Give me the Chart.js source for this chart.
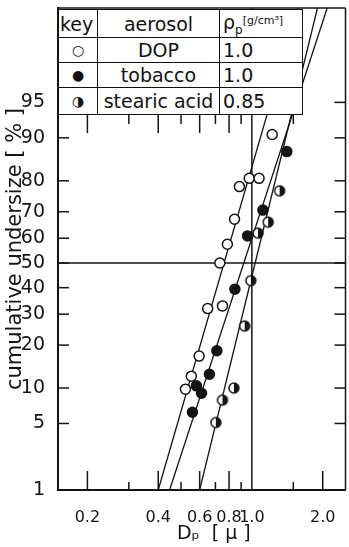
<!DOCTYPE html>
<html>
<head>
<meta charset="utf-8">
<script src="https://cdn.jsdelivr.net/npm/chart.js@4.4.1/dist/chart.umd.min.js"></script>
<style>
  html, body { margin: 0; padding: 0; background: #fff; overflow: hidden; }
  #wrap { position: relative; width: 352px; height: 547px; }
  #key {
    position: absolute; left: 58px; top: 9px; width: 244px;
    table-layout: fixed; border-collapse: collapse; background: #fff;
    font-family: 'DejaVu Sans', sans-serif; font-size: 19px; color: #111;
  }
  #key td { border: 1.5px solid #111; padding: 0 3px; white-space: nowrap; overflow: hidden; }
  #key .c { text-align: center; }
  #key .sym { text-align: center; font-size: 14px; }
  #key .unit { font-size: 11px; vertical-align: 5px; }
</style>
</head>
<body>
<div id="wrap">
  <canvas id="chart" width="352" height="547"></canvas>
  <table id="key">
    <colgroup><col style="width:39px"><col style="width:122px"><col style="width:83px"></colgroup>
    <tr style="height:28px"><td style="padding:0 1px">key</td><td class="c">aerosol</td><td>ρ<sub style="font-size:12px">p</sub><span class="unit">[g/cm³]</span></td></tr>
    <tr style="height:25px"><td class="sym">○</td><td class="c">DOP</td><td>1.0</td></tr>
    <tr style="height:25px"><td class="sym">●</td><td class="c">tobacco</td><td>1.0</td></tr>
    <tr style="height:27px"><td class="sym">◑</td><td class="c" style="padding:0 1px">stearic acid</td><td>0.85</td></tr>
  </table>
</div>
<script>
// particle diameter Dp [µ] and cumulative undersize [%]
const dopSize = [0.522, 0.553, 0.597, 0.649, 0.75, 0.731, 0.787, 0.844, 0.885, 0.975, 1.073, 1.22];
const dopUndersize = [9.8, 12.3, 17, 32, 33, 50, 57.6, 67.3, 78.3, 80.7, 80.7, 90.6];

const tobaccoSize = [0.559, 0.581, 0.611, 0.66, 0.71, 0.847, 0.959, 1.114, 1.408];
const tobaccoUndersize = [6.3, 10.4, 9.1, 12.7, 18.4, 39.4, 60.9, 70.6, 87.3];

const stearicSize = [0.703, 0.75, 0.839, 0.932, 0.99, 1.062, 1.173, 1.312];
const stearicUndersize = [5.1, 8, 10, 25.9, 42.8, 62, 66.2, 77];

// fitted straight lines, end points at 1 % and at the top of the grid
const fitUndersize = [1, 99.55];
const dopFitSize = [0.40, 1.57];
const tobaccoFitSize = [0.447, 2.09];
const stearicFitSize = [0.60, 1.90];

// axes
const sizeRange = [0.15, 2.5];
const undersizeRange = [1, 99.55];
const xTickLabels = [0.2, 0.4, 0.6, 0.8, 1.0, 2.0];
const xLongMarks = [0.2, 0.4, 0.6, 0.8, 2.0];
const xShortMarks = [0.3, 0.5, 0.7, 0.9, 1.5];
const yTickLabels = [1, 5, 10, 20, 30, 40, 50, 60, 70, 80, 90, 95];

const INK = '#141414';

// inverse normal cdf (Acklam), p in percent -> probability-paper coordinate
function probit(p) {
  const q = p / 100;
  const a = [-3.969683028665376e+01, 2.209460984245205e+02, -2.759285104469687e+02, 1.383577518672690e+02, -3.066479806614716e+01, 2.506628277459239e+00];
  const b = [-5.447609879822406e+01, 1.615858368580409e+02, -1.556989798598866e+02, 6.680131188771972e+01, -1.328068155288572e+01];
  const c = [-7.784894002430293e-03, -3.223964580411365e-01, -2.400758277161838e+00, -2.549732539343734e+00, 4.374664141464968e+00, 2.938163982698783e+00];
  const d = [7.784695709041462e-03, 3.224671290700398e-01, 2.445134137142996e+00, 3.754408661907416e+00];
  const lo = 0.02425;
  if (q < lo) {
    const r = Math.sqrt(-2 * Math.log(q));
    return (((((c[0]*r+c[1])*r+c[2])*r+c[3])*r+c[4])*r+c[5]) / ((((d[0]*r+d[1])*r+d[2])*r+d[3])*r+1);
  }
  if (q > 1 - lo) {
    const r = Math.sqrt(-2 * Math.log(1 - q));
    return -(((((c[0]*r+c[1])*r+c[2])*r+c[3])*r+c[4])*r+c[5]) / ((((d[0]*r+d[1])*r+d[2])*r+d[3])*r+1);
  }
  const r = q - 0.5, s = r * r;
  return (((((a[0]*s+a[1])*s+a[2])*s+a[3])*s+a[4])*s+a[5])*r / (((((b[0]*s+b[1])*s+b[2])*s+b[3])*s+b[4])*s+1);
}

function toPoints(sizes, pcts) {
  return sizes.map((v, i) => ({ x: v, y: probit(pcts[i]) }));
}

// half filled marker for stearic acid
function halfDot(r) {
  const cv = document.createElement('canvas');
  const s = 2 * r + 4;
  cv.width = cv.height = s;
  const g = cv.getContext('2d');
  const m = s / 2;
  g.fillStyle = '#fff';
  g.beginPath(); g.arc(m, m, r, 0, 2 * Math.PI); g.fill();
  g.fillStyle = INK;
  g.beginPath(); g.arc(m, m, r, -Math.PI / 2, Math.PI / 2); g.fill();
  g.lineWidth = 1.5; g.strokeStyle = INK;
  g.beginPath(); g.arc(m, m, r, 0, 2 * Math.PI); g.stroke();
  return cv;
}

// frame, inner tick marks, 50 % and 1.0 reference lines
const paperPlugin = {
  id: 'paper',
  beforeDatasetsDraw(chart) {
    const { ctx, chartArea: a, scales: { x, y } } = chart;
    const line = (x1, y1, x2, y2) => { ctx.beginPath(); ctx.moveTo(x1, y1); ctx.lineTo(x2, y2); ctx.stroke(); };
    const keyBox = document.getElementById('key');
    const keyBottom = keyBox.offsetTop + keyBox.offsetHeight;
    const keyRight = keyBox.offsetLeft + keyBox.offsetWidth;
    ctx.save();
    ctx.strokeStyle = INK;
    ctx.lineWidth = 1.5;
    line(a.left, a.top, a.right, a.top);
    line(a.right, a.top, a.right, a.bottom);
    const y50 = y.getPixelForValue(probit(50));
    line(a.left, y50, a.right, y50);
    const x1 = x.getPixelForValue(1.0);
    line(x1, a.top, x1, a.bottom);
    yTickLabels.forEach(p => {
      const py = y.getPixelForValue(probit(p));
      line(a.left, py, a.left + 11, py);
      line(a.right - 11, py, a.right, py);
    });
    xLongMarks.forEach(v => {
      const px = x.getPixelForValue(v);
      line(px, a.bottom, px, a.bottom - 19);
      if (px < keyRight) line(px, keyBottom, px, keyBottom + 18);
    });
    xShortMarks.forEach(v => {
      const px = x.getPixelForValue(v);
      line(px, a.bottom, px, a.bottom - 8);
      if (px < keyRight) line(px, keyBottom, px, keyBottom + 9);
    });
    ctx.restore();
  }
};

Chart.defaults.font.family = "'DejaVu Sans', sans-serif";
Chart.defaults.color = INK;

const pointBase = { showLine: false, pointRadius: 5, pointHoverRadius: 5, pointBorderWidth: 1.5, pointBorderColor: INK, order: 1 };
const fitBase = { showLine: true, pointRadius: 0, borderColor: INK, borderWidth: 1.3, fill: false, order: 2 };

new Chart(document.getElementById('chart'), {
  type: 'scatter',
  data: {
    datasets: [
      { ...pointBase, label: 'DOP', data: toPoints(dopSize, dopUndersize), pointBackgroundColor: '#fff' },
      { ...pointBase, label: 'tobacco', data: toPoints(tobaccoSize, tobaccoUndersize), pointBackgroundColor: INK },
      { ...pointBase, label: 'stearic acid', data: toPoints(stearicSize, stearicUndersize), pointStyle: halfDot(5) },
      { ...fitBase, label: 'DOP fit', data: toPoints(dopFitSize, fitUndersize) },
      { ...fitBase, label: 'tobacco fit', data: toPoints(tobaccoFitSize, fitUndersize) },
      { ...fitBase, label: 'stearic acid fit', data: toPoints(stearicFitSize, fitUndersize) }
    ]
  },
  options: {
    responsive: false,
    animation: false,
    devicePixelRatio: 1,
    layout: { padding: { top: 8, right: 0.5, left: 0, bottom: 0 } },
    plugins: { legend: { display: false }, tooltip: { enabled: false } },
    scales: {
      x: {
        type: 'logarithmic',
        min: sizeRange[0],
        max: sizeRange[1],
        afterBuildTicks: s => { s.ticks = xTickLabels.map(v => ({ value: v })); },
        afterFit: s => { s.height = 57; s.paddingLeft = 0; s.paddingRight = 0; },
        grid: { display: false },
        border: { display: true, color: INK, width: 2 },
        ticks: { autoSkip: false, maxRotation: 0, padding: 10, font: { size: 16 }, callback: v => Number(v).toFixed(1) },
        title: { display: true, text: '    Dₚ  [ μ ]', font: { size: 19 }, padding: { top: 0, bottom: 2 } }
      },
      y: {
        type: 'linear',
        min: probit(undersizeRange[0]),
        max: probit(undersizeRange[1]),
        afterBuildTicks: s => { s.ticks = yTickLabels.map(p => ({ value: probit(p) })); },
        afterFit: s => { s.width = 58; s.paddingTop = 0; s.paddingBottom = 0; },
        grid: { display: false },
        border: { display: true, color: INK, width: 2 },
        ticks: { autoSkip: false, padding: 5, font: { size: 19 }, callback: (v, i) => String(yTickLabels[i]) },
        title: { display: true, text: 'cumulative undersize [ % ]', font: { size: 21 }, padding: { top: 3, bottom: 0 } }
      }
    }
  },
  plugins: [paperPlugin]
});
</script>
</body>
</html>
